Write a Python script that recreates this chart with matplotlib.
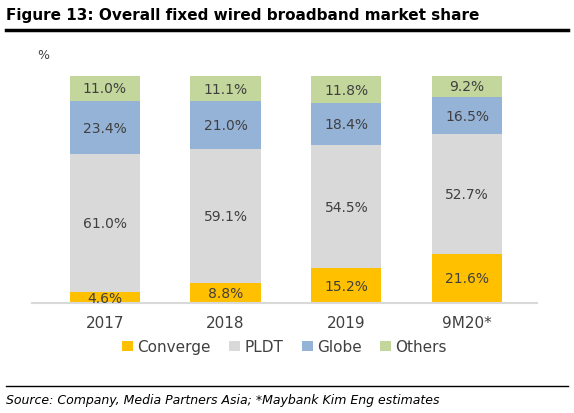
import numpy as np
import matplotlib.pyplot as plt
from matplotlib.lines import Line2D

categories = ['2017', '2018', '2019', '9M20*']
converge = [4.6, 8.8, 15.2, 21.6]
pldt = [61.0, 59.1, 54.5, 52.7]
globe = [23.4, 21.0, 18.4, 16.5]
others = [11.0, 11.1, 11.8, 9.2]

series = [('Converge', converge, '#FFC000'),
          ('PLDT', pldt, '#D9D9D9'),
          ('Globe', globe, '#95B3D7'),
          ('Others', others, '#C3D69B')]

fig = plt.figure(figsize=(5.74, 4.14), dpi=100)
ax = fig.add_axes([0.056, 0.266, 0.88, 0.548])

x = np.arange(len(categories))
bottom = np.zeros(len(categories))
for name, vals, col in series:
    vals = np.array(vals)
    ax.bar(x, vals, 0.58, bottom=bottom, color=col, label=name)
    for xi, b, v in zip(x, bottom, vals):
        ax.text(xi, b + v / 2, f'{v:.1f}%', ha='center', va='center',
                fontsize=10, color='#404040')
    bottom += vals

ax.set_xlim(-0.6, 3.58)
ax.set_ylim(0, 100)
ax.set_yticks([])
ax.set_xticks(x)
ax.set_xticklabels(categories, fontsize=11, color='#404040')
ax.tick_params(axis='x', length=0, pad=9)
for s in ['top', 'right', 'left']:
    ax.spines[s].set_visible(False)
ax.spines['bottom'].set_color('#D9D9D9')
ax.spines['bottom'].set_linewidth(1.5)

ax.legend(loc='upper center', bbox_to_anchor=(0.5, -0.1), ncol=4, frameon=False,
          fontsize=11, handlelength=0.7, handleheight=0.7, handletextpad=0.3,
          columnspacing=1.2, labelcolor='#404040')

fig.text(0.01, 0.962, 'Figure 13: Overall fixed wired broadband market share',
         fontsize=11, fontweight='bold', color='black', va='center')
fig.add_artist(Line2D([0.01, 0.99], [0.925, 0.925], color='black', lw=2.5))
fig.text(0.065, 0.865, '%', fontsize=9, color='#404040', va='center')
fig.add_artist(Line2D([0.01, 0.99], [0.065, 0.065], color='black', lw=1))
fig.text(0.01, 0.033, 'Source: Company, Media Partners Asia; *Maybank Kim Eng estimates',
         fontsize=9, style='italic', color='black', va='center')

fig.savefig('out.png', dpi=100)
